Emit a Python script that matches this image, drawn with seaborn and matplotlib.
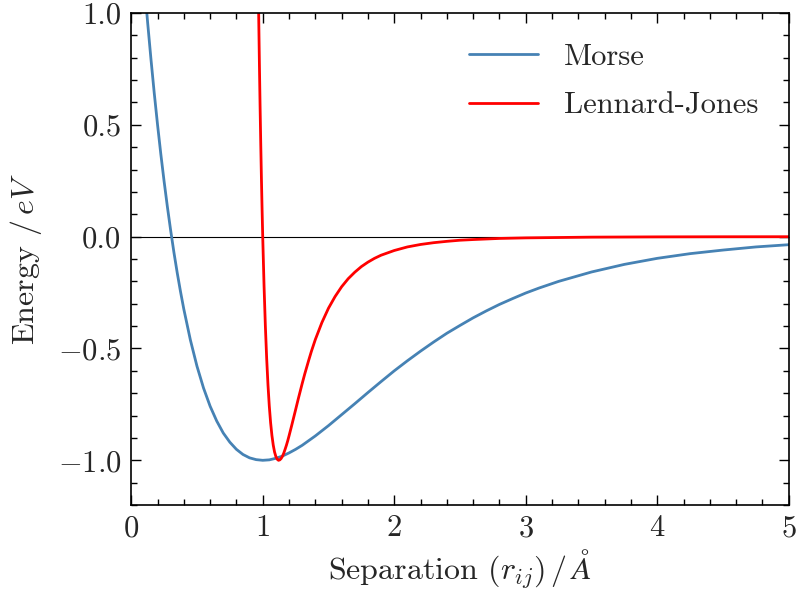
import matplotlib
matplotlib.use("Agg")
import matplotlib.pyplot as plt
import seaborn as sns
import pandas as pd
from matplotlib.ticker import MultipleLocator

# Data
morse_r = [0.100, 0.125, 0.150, 0.175, 0.200, 0.225, 0.250, 0.275, 0.300, 0.325,
           0.350, 0.375, 0.400, 0.450, 0.500, 0.550, 0.600, 0.650, 0.700, 0.750,
           0.800, 0.850, 0.900, 0.950, 1.000, 1.050, 1.100, 1.150, 1.200, 1.250,
           1.300, 1.400, 1.500, 1.600, 1.700, 1.800, 1.900, 2.000, 2.100, 2.200,
           2.300, 2.400, 2.500, 2.600, 2.700, 2.800, 2.900, 3.000, 3.100, 3.250,
           3.500, 3.750, 4.000, 4.250, 4.500, 4.750, 5.000]
morse_e = [1.130, 0.957, 0.795, 0.643, 0.502, 0.370, 0.248, 0.134, 0.028, -0.071,
           -0.162, -0.246, -0.324, -0.462, -0.579, -0.677, -0.758, -0.824, -0.878, -0.919,
           -0.951, -0.974, -0.989, -0.997, -1.000, -0.998, -0.991, -0.981, -0.967, -0.951,
           -0.933, -0.891, -0.845, -0.796, -0.747, -0.697, -0.648, -0.600, -0.555, -0.512,
           -0.471, -0.432, -0.397, -0.363, -0.332, -0.303, -0.277, -0.252, -0.230, -0.200,
           -0.158, -0.124, -0.097, -0.076, -0.060, -0.046, -0.036]

lj_r = [0.960, 0.970, 0.975, 0.980, 0.985, 0.990, 0.995, 1.000, 1.010, 1.020,
        1.030, 1.040, 1.050, 1.060, 1.070, 1.080, 1.090, 1.100, 1.110, 1.120,
        1.130, 1.140, 1.150, 1.160, 1.170, 1.180, 1.190, 1.200, 1.220, 1.250,
        1.270, 1.300, 1.320, 1.350, 1.370, 1.400, 1.450, 1.500, 1.550, 1.600,
        1.650, 1.700, 1.750, 1.800, 1.850, 1.900, 2.000, 2.100, 2.200, 2.300,
        2.400, 2.500, 2.600, 2.800, 3.000, 3.500, 4.000, 4.500, 5.000]
lj_e = [1.418, 0.963, 0.764, 0.582, 0.416, 0.264, 0.126, 0.000, -0.218, -0.398,
        -0.544, -0.663, -0.758, -0.832, -0.889, -0.932, -0.963, -0.983, -0.995, -1.000,
        -0.998, -0.992, -0.982, -0.968, -0.951, -0.933, -0.913, -0.891, -0.845, -0.774,
        -0.726, -0.657, -0.613, -0.552, -0.513, -0.460, -0.384, -0.320, -0.268, -0.224,
        -0.188, -0.159, -0.134, -0.114, -0.097, -0.083, -0.062, -0.046, -0.035, -0.027,
        -0.021, -0.016, -0.013, -0.008, -0.0055, -0.0022, -0.0010, -0.0005, -0.0003]

series_names = ["Morse", "Lennard-Jones"]
series_colors = ["#4682B4", "#FF0000"]

sns.set_theme(style="ticks")
plt.rcParams.update({
    "font.family": "serif",
    "font.serif": ["cmr10"],
    "mathtext.fontset": "cm",
    "axes.formatter.use_mathtext": True,
    "axes.unicode_minus": True,
})

FS = 22

fig = plt.figure(figsize=(8, 5.9), dpi=100)
ax = fig.add_axes([0.164, 0.144, 0.822, 0.834])

df_m = pd.DataFrame({"r": morse_r, "E": morse_e})
df_l = pd.DataFrame({"r": lj_r, "E": lj_e})

ax.axhline(0, color="black", lw=0.8, zorder=1)
sns.lineplot(data=df_m, x="r", y="E", ax=ax, color=series_colors[0], lw=2.0,
             label=series_names[0], estimator=None, sort=False)
sns.lineplot(data=df_l, x="r", y="E", ax=ax, color=series_colors[1], lw=2.0,
             label=series_names[1], estimator=None, sort=False)

ax.set_xlim(0, 5)
ax.set_ylim(-1.2, 1.0)
ax.xaxis.set_major_locator(MultipleLocator(1))
ax.xaxis.set_minor_locator(MultipleLocator(0.2))
ax.yaxis.set_major_locator(MultipleLocator(0.5))
ax.yaxis.set_minor_locator(MultipleLocator(0.1))
ax.yaxis.set_major_formatter(matplotlib.ticker.FuncFormatter(
    lambda v, p: ("$-$" if v < 0 else "") + f"{abs(v):.1f}"))

ax.tick_params(which="both", direction="in", top=True, right=True, color="black")
ax.tick_params(which="major", length=7, width=1.0, labelsize=FS, pad=7)
ax.tick_params(which="minor", length=4, width=1.0)
for s in ax.spines.values():
    s.set_linewidth(1.2)
    s.set_color("black")

ax.set_xlabel(r"Separation $(r_{ij})\,/\,\AA$", fontsize=23, labelpad=4)
ax.set_ylabel(r"Energy $/\,eV$", fontsize=23, labelpad=10)

leg = ax.legend(loc="upper right", frameon=False, fontsize=FS, handlelength=2.25,
                handletextpad=0.85, borderaxespad=0.6, labelspacing=0.7)

fig.savefig("out.png", dpi=100)
